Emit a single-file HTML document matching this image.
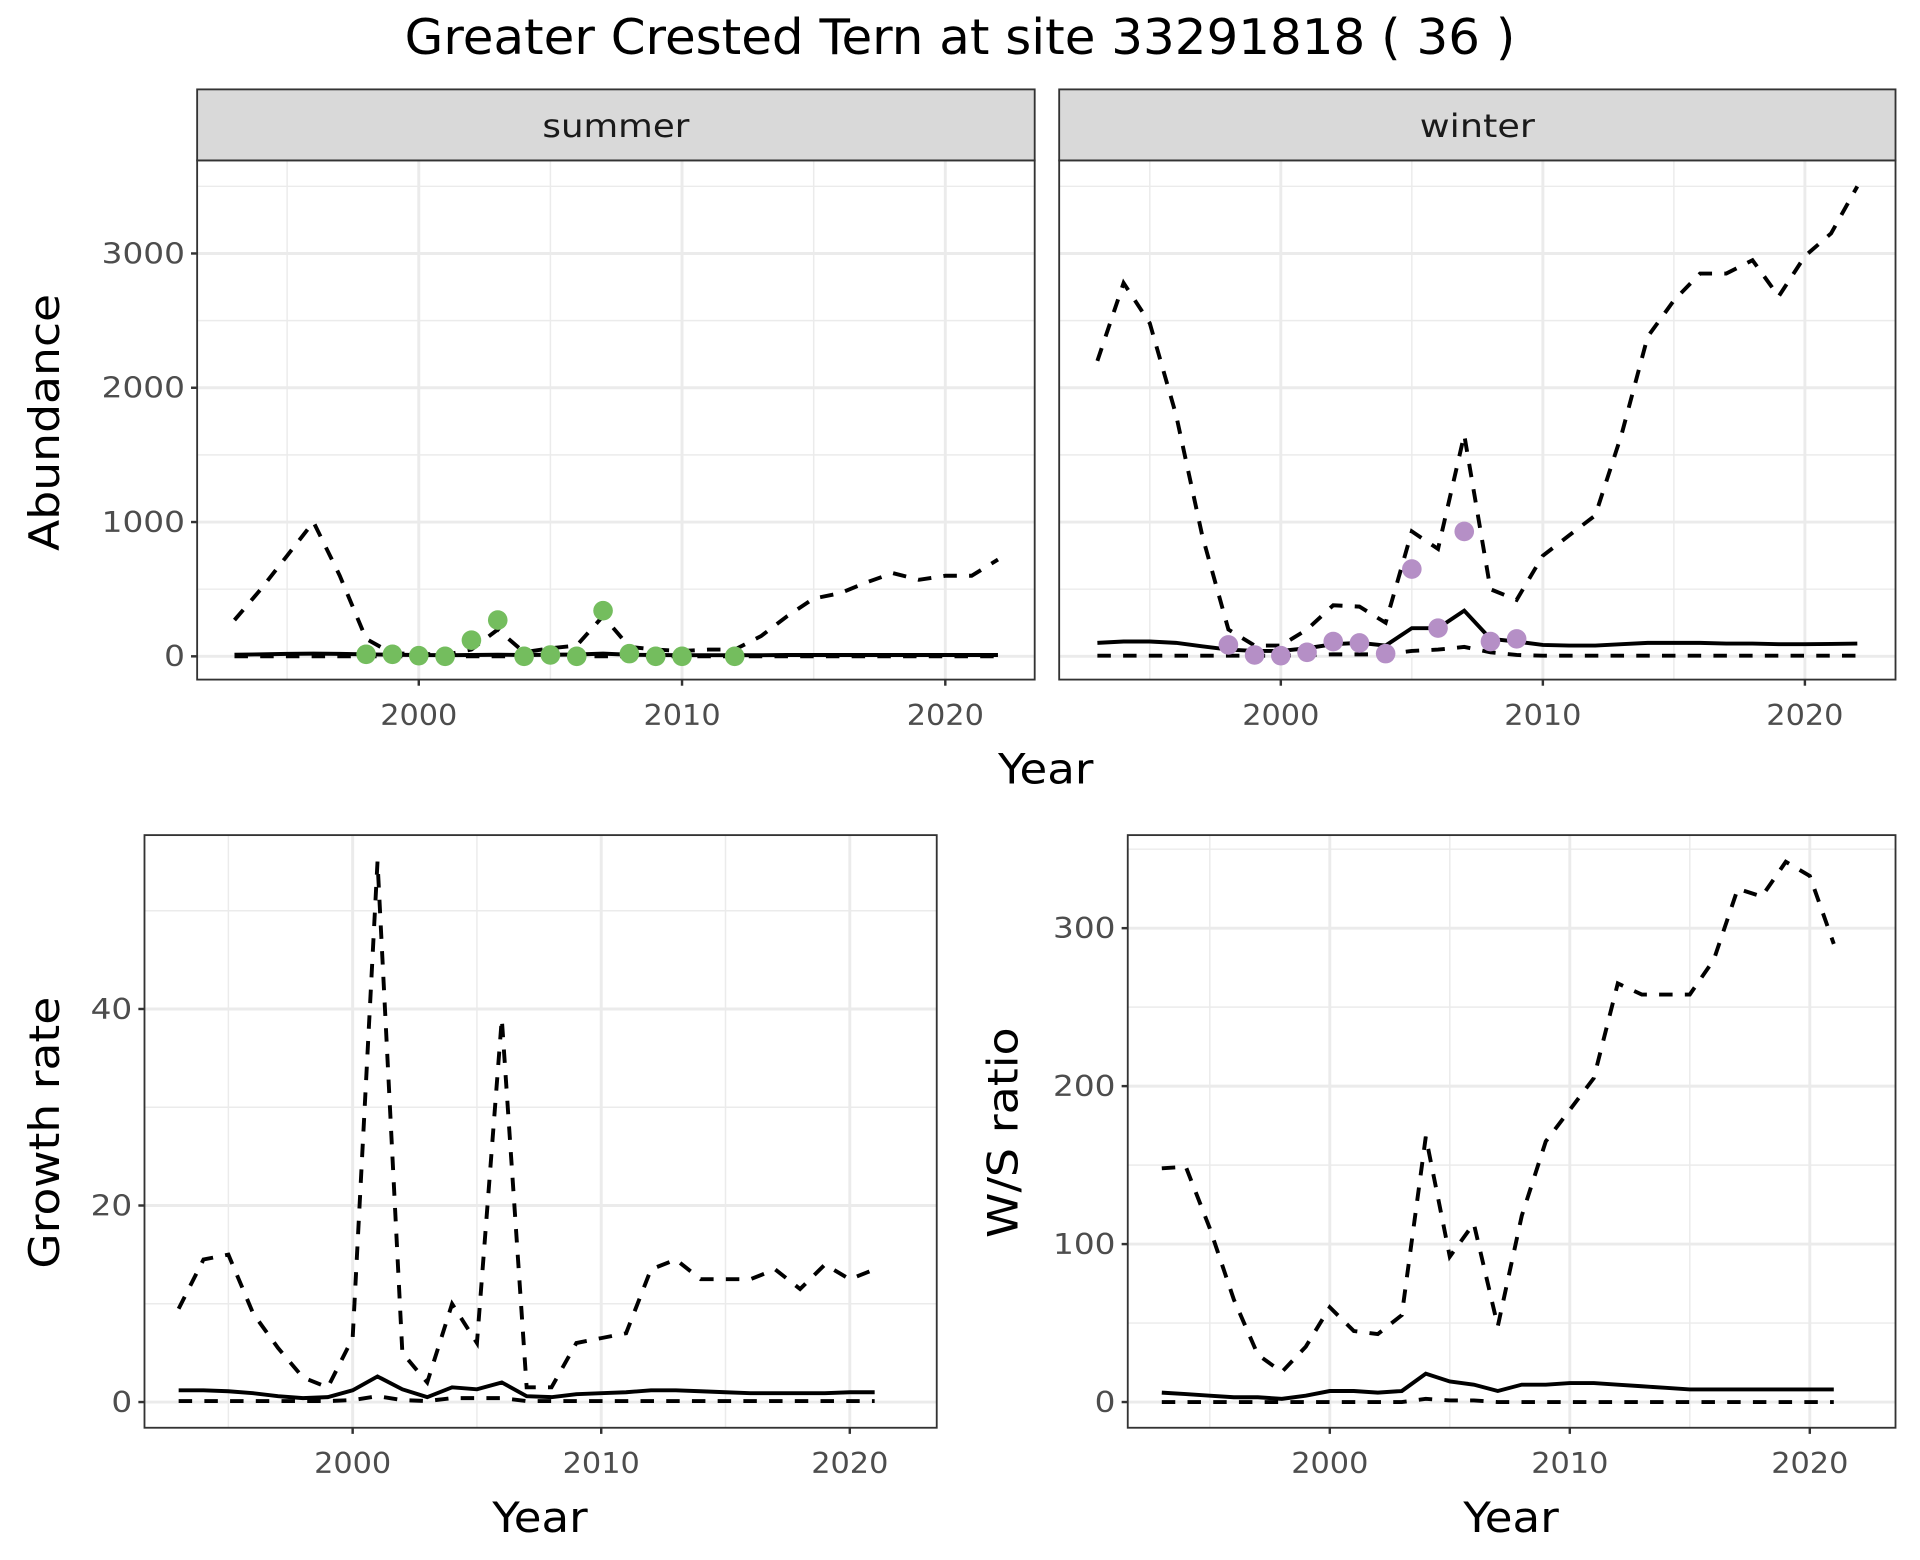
<!DOCTYPE html>
<html><head><meta charset="utf-8"><style>
html,body{margin:0;padding:0;background:#fff;}
svg{display:block;font-family:"DejaVu Sans","Liberation Sans",sans-serif;}
</style></head><body>
<svg id="chart" width="1920" height="1560" viewBox="0 0 1568 1274" xmlns="http://www.w3.org/2000/svg">
<rect width="1568" height="1274" fill="#fff"/>
<text x="784" y="44" font-size="40" text-anchor="middle" fill="#000" textLength="907" lengthAdjust="spacingAndGlyphs">Greater Crested Tern at site 33291818 ( 36 )</text>
<g id="g"></g>
</svg>
<script>
const yearsA = [1993,1994,1995,1996,1997,1998,1999,2000,2001,2002,2003,2004,2005,2006,2007,2008,2009,2010,2011,2012,2013,2014,2015,2016,2017,2018,2019,2020,2021,2022];
const summerUpper = [270,500,750,1000,600,130,20,20,10,50,200,30,60,80,300,70,50,40,50,50,150,300,430,470,550,620,570,600,600,720];
const summerMid = [12,15,18,20,18,15,12,10,8,10,12,10,12,14,20,12,10,8,8,8,8,10,10,10,10,10,10,10,10,10];
const summerLower = [0,0,0,0,0,0,0,0,0,0,0,0,0,0,0,0,0,0,0,0,0,0,0,0,0,0,0,0,0,0];
const summerObsYears = [1998,1999,2000,2001,2002,2003,2004,2005,2006,2007,2008,2009,2010,2012];
const summerObs = [15,15,5,0,120,270,0,10,0,340,20,0,0,0];
const winterUpper = [2200,2780,2480,1800,900,200,80,80,200,380,370,250,930,800,1650,500,420,750,900,1050,1650,2380,2650,2850,2850,2950,2680,2980,3150,3500];
const winterMid = [100,110,110,100,75,50,40,40,60,90,100,80,210,210,340,130,110,85,80,80,90,100,100,100,95,95,90,90,92,95];
const winterLower = [5,5,5,5,5,5,5,5,10,15,15,15,40,50,70,30,10,5,5,5,5,5,5,5,5,5,5,5,5,5];
const winterObsYears = [1998,1999,2000,2001,2002,2003,2004,2005,2006,2007,2008,2009];
const winterObs = [85,10,5,30,110,100,20,650,210,930,110,130];
const yearsB = [1993,1994,1995,1996,1997,1998,1999,2000,2001,2002,2003,2004,2005,2006,2007,2008,2009,2010,2011,2012,2013,2014,2015,2016,2017,2018,2019,2020,2021];
const growthUpper = [9.5,14.5,15,9,5.5,2.5,1.5,6.5,55,5,2,10,6,39,1.5,1.5,6,6.5,7,13.5,14.5,12.5,12.5,12.5,13.5,11.5,14,12.5,13.5];
const growthMid = [1.2,1.2,1.1,0.9,0.6,0.4,0.5,1.2,2.6,1.3,0.5,1.5,1.3,2.0,0.6,0.5,0.8,0.9,1.0,1.2,1.2,1.1,1.0,0.9,0.9,0.9,0.9,1.0,1.0];
const growthLower = [0.1,0.1,0.1,0.1,0.1,0.1,0.1,0.2,0.6,0.2,0.1,0.4,0.4,0.4,0.1,0.1,0.1,0.1,0.1,0.1,0.1,0.1,0.1,0.1,0.1,0.1,0.1,0.1,0.1];
const ratioUpper = [148,149,110,65,30,19,35,60,45,43,55,168,92,113,48,118,165,185,205,265,258,258,258,280,325,320,342,333,290];
const ratioMid = [6,5,4,3,3,2,4,7,7,6,7,18,13,11,7,11,11,12,12,11,10,9,8,8,8,8,8,8,8];
const ratioLower = [0,0,0,0,0,0,0,0,0,0,0,2,1,1,0,0,0,0,0,0,0,0,0,0,0,0,0,0,0];
const xTicks = [2000,2010,2020];
const abTicks = [0,1000,2000,3000];
const grTicks = [0,20,40];
const raTicks = [0,100,200,300];

const NS='http://www.w3.org/2000/svg';
const G=document.getElementById('g');
function el(tag,attrs,parent){const e=document.createElementNS(NS,tag);for(const k in attrs)e.setAttribute(k,attrs[k]);(parent||G).appendChild(e);return e;}
function lin(d0,d1,r0,r1){return v=>r0+(v-d0)*(r1-r0)/(d1-d0);}

function panel(cfg){
  const {name,L,R,T,B,x,y,xMinors,yMinors,yTicks,showY}=cfg;
  const g=el('g',{});
  
  
  el('rect',{x:L,y:T,width:R-L,height:B-T,fill:'#fff'},g);
  xMinors.forEach(v=>{el('line',{x1:x(v),x2:x(v),y1:T,y2:B,stroke:'#ebebeb','stroke-width':1.2},g);});
  yMinors.forEach(v=>{el('line',{x1:L,x2:R,y1:y(v),y2:y(v),stroke:'#ebebeb','stroke-width':1.2},g);});
  xTicks.forEach(v=>{el('line',{x1:x(v),x2:x(v),y1:T,y2:B,stroke:'#ebebeb','stroke-width':2.4},g);});
  yTicks.forEach(v=>{el('line',{x1:L,x2:R,y1:y(v),y2:y(v),stroke:'#ebebeb','stroke-width':2.4},g);});
  xTicks.forEach(v=>{
    el('line',{x1:x(v),x2:x(v),y1:B,y2:B+5,stroke:'#333','stroke-width':2},g);
    const t=el('text',{x:x(v),y:B+37,'font-size':23,fill:'#4d4d4d','text-anchor':'middle',textLength:63,lengthAdjust:'spacingAndGlyphs'},g);
    t.textContent=v;
    
    
  });
  if(showY) yTicks.forEach(v=>{
    el('line',{x1:L-5,x2:L,y1:y(v),y2:y(v),stroke:'#333','stroke-width':2},g);
    const t=el('text',{x:L-10,y:y(v)+8,'font-size':23,fill:'#4d4d4d','text-anchor':'end',textLength:String(v).length*17,lengthAdjust:'spacingAndGlyphs'},g);
    t.textContent=v;
    
    
  });
  return g;
}
function series(g,yrs,vals,x,y,dash,name){
  const d=yrs.map((yr,i)=>(i?'L':'M')+x(yr).toFixed(1)+','+y(vals[i]).toFixed(1)).join('');
  const p=el('path',{d:d,fill:'none',stroke:'#000','stroke-width':3.2,'stroke-dasharray':dash?'11,10':'none'},g);
  
  
}
function points(g,yrs,vals,x,y,col,name){
  yrs.forEach((yr,i)=>{
    const c=el('circle',{cx:x(yr),cy:y(vals[i]),r:8,fill:col},g);
    
    
  });
}
function border(g,L,R,T,B){el('rect',{x:L,y:T,width:R-L,height:B-T,fill:'none',stroke:'#333','stroke-width':1.5},g);}

const minX=[1995,2005,2015];
{const L=161,R=845,T=131,B=555;const x=lin(2000,2010,342,557),y=lin(0,3000,536,207);
 const g=panel({name:'summer',L,R,T,B,x,y,xMinors:minX,yMinors:[500,1500,2500,3500],yTicks:abTicks,showY:true});
 series(g,yearsA,summerLower,x,y,true,'summer-lower-bound');
 series(g,yearsA,summerMid,x,y,false,'summer-estimate');
 series(g,yearsA,summerUpper,x,y,true,'summer-upper-bound');
 points(g,summerObsYears,summerObs,x,y,'#74bd5e','summer-observed-point');
 border(g,L,R,T,B);
 const s=el('rect',{x:L,y:73,width:R-L,height:58,fill:'#d9d9d9',stroke:'#333','stroke-width':1.5});
 
 const t=el('text',{x:(L+R)/2,y:112,'font-size':26,fill:'#1a1a1a','text-anchor':'middle',textLength:120,lengthAdjust:'spacingAndGlyphs'});t.textContent='summer';
 }
{const L=865,R=1548,T=131,B=555;const x=lin(2000,2010,1046,1260),y=lin(0,3000,536,207);
 const g=panel({name:'winter',L,R,T,B,x,y,xMinors:minX,yMinors:[500,1500,2500,3500],yTicks:abTicks,showY:false});
 series(g,yearsA,winterLower,x,y,true,'winter-lower-bound');
 series(g,yearsA,winterMid,x,y,false,'winter-estimate');
 series(g,yearsA,winterUpper,x,y,true,'winter-upper-bound');
 points(g,winterObsYears,winterObs,x,y,'#b58fc6','winter-observed-point');
 border(g,L,R,T,B);
 const s=el('rect',{x:L,y:73,width:R-L,height:58,fill:'#d9d9d9',stroke:'#333','stroke-width':1.5});
 
 const t=el('text',{x:(L+R)/2,y:112,'font-size':26,fill:'#1a1a1a','text-anchor':'middle',textLength:94,lengthAdjust:'spacingAndGlyphs'});t.textContent='winter';
 }
{const L=118,R=765,T=682,B=1166;const x=lin(2000,2010,288,491),y=lin(0,40,1145,824);
 const g=panel({name:'growth-rate',L,R,T,B,x,y,xMinors:minX,yMinors:[10,30,50],yTicks:grTicks,showY:true});
 series(g,yearsB,growthLower,x,y,true,'growth-lower-bound');
 series(g,yearsB,growthMid,x,y,false,'growth-estimate');
 series(g,yearsB,growthUpper,x,y,true,'growth-upper-bound');
 border(g,L,R,T,B);}
{const L=921,R=1548,T=682,B=1166;const x=lin(2000,2010,1086,1282),y=lin(0,300,1145,758);
 const g=panel({name:'ws-ratio',L,R,T,B,x,y,xMinors:minX,yMinors:[50,150,250,350],yTicks:raTicks,showY:true});
 series(g,yearsB,ratioLower,x,y,true,'ratio-lower-bound');
 series(g,yearsB,ratioMid,x,y,false,'ratio-estimate');
 series(g,yearsB,ratioUpper,x,y,true,'ratio-upper-bound');
 border(g,L,R,T,B);}
function label(txt,x,y,rot,name,len){const t=el('text',{x:x,y:y,'font-size':34,fill:'#000','text-anchor':'middle',textLength:len,lengthAdjust:'spacingAndGlyphs',transform:rot?`rotate(-90 ${x} ${y})`:''});t.textContent=txt;
 }
label('Year',854,640,false,'top-x-axis-title',78);
label('Abundance',48,345,true,'abundance-y-axis-title',210);
label('Year',441,1251,false,'growth-x-axis-title',78);
label('Growth rate',48,925,true,'growth-y-axis-title',222);
label('Year',1234,1251,false,'ratio-x-axis-title',78);
label('W/S ratio',831,925,true,'ratio-y-axis-title',172);
</script>
</body></html>
